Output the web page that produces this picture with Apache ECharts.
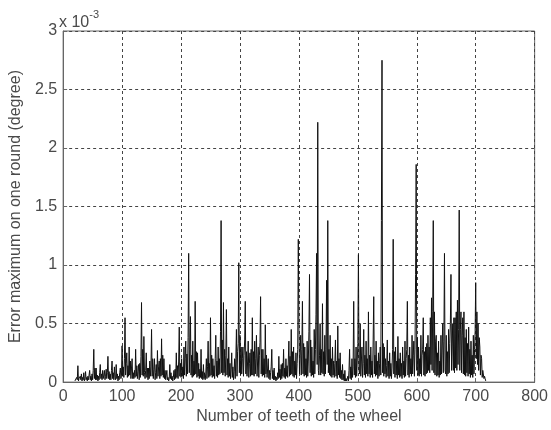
<!DOCTYPE html>
<html>
<head>
<meta charset="utf-8">
<script src="https://cdn.jsdelivr.net/npm/echarts@6/dist/echarts.min.js"></script>
<style>
html,body{margin:0;padding:0;background:#fff;}
#chart{width:551px;height:430px;}
</style>
</head>
<body>
<div id="chart"></div>
<script>
// Number of teeth of the wheel: consecutive integers starting here
var firstTooth = 20;
// Error maximum on one round (unit: 1e-3 degree), one value per tooth from firstTooth
var errors = [
0.01,0.02,0.01,0.04,0.02,0.14,0.01,0.03,0.02,0.05,0.02,0.07,0.01,0.04,0.02,0.08,0.01,0.03,0.09,0.02,
0.04,0.01,0.05,0.02,0.03,0.10,0.02,0.05,0.01,0.07,0.02,0.10,0.28,0.03,0.12,0.02,0.12,0.02,0.06,0.01,
0.05,0.02,0.08,0.15,0.03,0.07,0.02,0.10,0.03,0.06,0.10,0.02,0.05,0.11,0.03,0.08,0.22,0.03,0.09,0.02,
0.07,0.02,0.10,0.18,0.03,0.08,0.02,0.13,0.04,0.02,0.15,0.03,0.07,0.01,0.05,0.02,0.08,0.12,0.03,0.06,
0.31,0.05,0.13,0.04,0.20,0.55,0.06,0.16,0.25,0.04,0.14,0.05,0.30,0.06,0.18,0.03,0.12,0.20,0.03,0.08,
0.03,0.10,0.04,0.28,0.05,0.14,0.03,0.09,0.15,0.02,0.16,0.04,0.22,0.68,0.06,0.28,0.05,0.39,0.08,0.03,
0.10,0.25,0.04,0.12,0.02,0.12,0.03,0.18,0.05,0.13,0.45,0.05,0.20,0.03,0.11,0.20,0.02,0.08,0.15,0.03,
0.27,0.05,0.13,0.18,0.03,0.20,0.05,0.37,0.06,0.23,0.04,0.20,0.03,0.10,0.02,0.06,0.10,0.02,0.04,0.01,
0.03,0.15,0.03,0.08,0.02,0.05,0.01,0.04,0.10,0.02,0.11,0.03,0.25,0.04,0.14,0.03,0.18,0.47,0.05,0.16,
0.04,0.20,0.05,0.13,0.03,0.30,0.06,0.20,0.35,0.05,0.24,0.07,0.38,1.10,0.08,0.28,0.56,0.06,0.23,0.04,
0.35,0.05,0.18,0.06,0.69,0.07,0.26,0.04,0.25,0.05,0.16,0.03,0.11,0.04,0.28,0.03,0.09,0.02,0.15,0.03,
0.08,0.02,0.07,0.20,0.03,0.13,0.35,0.04,0.16,0.05,0.55,0.06,0.23,0.04,0.20,0.05,0.14,0.03,0.20,0.40,
0.05,0.18,0.04,0.30,0.06,0.20,0.07,0.43,1.38,0.08,0.36,0.06,0.68,0.08,0.28,0.05,0.23,0.62,0.06,0.20,
0.04,0.30,0.05,0.16,0.03,0.11,0.25,0.04,0.13,0.02,0.09,0.20,0.03,0.20,0.45,0.05,0.26,0.33,1.02,0.08,
0.40,0.06,0.30,0.07,0.20,0.30,0.05,0.23,0.36,0.69,0.07,0.26,0.05,0.18,0.35,0.04,0.16,0.25,0.05,0.28,
0.06,0.55,0.06,0.26,0.05,0.35,0.07,0.20,0.40,0.05,0.18,0.30,0.04,0.23,0.34,0.73,0.07,0.28,0.05,0.28,
0.06,0.20,0.04,0.49,0.07,0.23,0.04,0.12,0.20,0.03,0.10,0.02,0.08,0.13,0.28,0.03,0.10,0.02,0.12,0.02,
0.05,0.01,0.04,0.02,0.08,0.03,0.22,0.04,0.11,0.02,0.15,0.03,0.16,0.05,0.28,0.04,0.12,0.03,0.20,0.05,
0.14,0.04,0.18,0.35,0.05,0.22,0.06,0.45,0.07,0.26,0.05,0.30,0.04,0.18,0.06,0.25,0.03,0.16,0.28,1.22,
0.50,0.07,0.23,0.40,0.06,0.28,0.69,0.07,0.33,0.05,0.30,0.06,0.20,0.04,0.35,0.05,0.18,0.43,0.92,0.08,
0.36,0.05,0.30,0.06,0.18,0.04,0.45,0.07,0.28,0.58,1.10,0.15,2.22,0.10,0.06,0.23,0.50,0.06,0.28,0.08,
0.67,0.07,0.26,0.05,0.40,0.07,0.28,0.87,0.15,1.38,0.08,0.28,0.06,0.40,0.05,0.20,0.04,0.30,0.06,0.18,
0.04,0.16,0.36,0.05,0.18,0.03,0.48,0.06,0.20,0.04,0.25,0.03,0.10,0.02,0.15,0.02,0.07,0.01,0.10,0.01,
0.03,0.01,0.02,0.05,0.01,0.10,0.28,0.03,0.13,0.02,0.20,0.04,0.13,0.69,0.06,0.20,0.04,0.30,0.05,0.18,
0.33,1.09,0.10,0.07,0.50,0.05,0.18,0.30,0.04,0.16,0.45,0.06,0.23,0.04,0.35,0.07,0.20,0.05,0.60,0.07,
0.23,0.04,0.30,0.06,0.18,0.04,0.36,0.73,0.07,0.23,0.05,0.35,0.06,0.18,0.03,0.25,0.05,0.16,0.30,0.06,
1.38,2.75,0.08,0.33,0.05,0.30,0.07,0.20,0.04,0.14,0.36,0.05,0.18,0.03,0.25,0.05,0.16,0.03,0.12,0.28,
1.22,0.07,0.26,0.04,0.30,0.06,0.18,0.03,0.39,0.06,0.20,0.04,0.25,0.05,0.16,0.03,0.30,0.06,0.18,0.04,
0.35,0.05,0.20,0.28,0.69,0.06,0.23,0.04,0.30,0.07,0.20,0.05,0.40,0.07,0.23,0.35,0.05,0.28,0.92,1.86,
0.10,0.38,0.06,0.30,0.05,0.20,0.07,0.40,0.05,0.23,0.28,0.55,0.06,0.26,0.05,0.30,0.07,0.33,0.08,0.40,
0.10,0.30,0.08,0.55,0.15,0.72,0.10,0.60,1.38,0.08,0.60,0.06,0.35,0.40,0.05,0.25,0.06,0.35,0.04,0.18,
0.06,0.40,0.07,0.30,0.50,0.08,0.35,1.10,0.10,0.07,0.40,0.05,0.26,0.07,0.45,0.08,0.33,0.50,0.92,0.10,
0.30,0.50,0.10,0.55,0.08,0.55,0.12,0.60,0.10,0.70,0.15,0.45,1.47,0.10,0.45,0.60,0.08,0.40,0.55,0.07,
0.60,0.06,0.38,0.05,0.45,0.08,0.33,0.05,0.47,0.07,0.28,0.04,0.35,0.06,0.23,0.04,0.40,0.07,0.28,0.43,
0.85,0.20,0.60,0.15,0.50,0.10,0.38,0.30,0.06,0.23,0.20,0.04,0.10,0.10,0.03,0.05,0.03,0.01
];
var xTicks = [0, 100, 200, 300, 400, 500, 600, 700, 800];
var yTicks = [0, 0.5, 1, 1.5, 2, 2.5, 3];
var xTitle = 'Number of teeth of the wheel';
var yTitle = 'Error maximum on one round (degree)';

var points = errors.map(function (v, i) { return [firstTooth + i, v]; });

var chart = echarts.init(document.getElementById('chart'), null, {renderer: 'canvas'});
var font = "'Liberation Sans', Arial, sans-serif";
var textColor = '#4a4a4a';
var gridLine = {show: true, lineStyle: {color: '#444', width: 1, type: [3, 3]}};
chart.setOption({
  animation: false,
  backgroundColor: '#fff',
  grid: {left: 60, top: 31, right: 15, bottom: 47, show: true, borderColor: '#666', borderWidth: 1},
  xAxis: {
    type: 'value', min: xTicks[0], max: xTicks[xTicks.length - 1], interval: xTicks[1] - xTicks[0],
    axisLine: {show: true, lineStyle: {color: '#666'}},
    axisTick: {show: true, inside: true, length: 4, lineStyle: {color: '#666'}},
    axisLabel: {color: textColor, fontSize: 16, fontFamily: font, margin: 6},
    splitLine: gridLine,
    name: xTitle, nameLocation: 'middle', nameGap: 26,
    nameTextStyle: {color: textColor, fontSize: 16, fontFamily: font}
  },
  yAxis: {
    type: 'value', min: yTicks[0], max: yTicks[yTicks.length - 1], interval: yTicks[1] - yTicks[0],
    axisLine: {show: true, lineStyle: {color: '#666'}},
    axisTick: {show: true, inside: true, length: 4, lineStyle: {color: '#666'}},
    axisLabel: {color: textColor, fontSize: 16, fontFamily: font, margin: 6},
    splitLine: gridLine,
    name: yTitle, nameLocation: 'middle', nameGap: 34,
    nameTextStyle: {color: textColor, fontSize: 16, fontFamily: font}
  },
  graphic: [{
    type: 'text', left: 59, top: 9,
    style: {
      text: '{a|x 10}{b|-3}',
      rich: {
        a: {fontSize: 16, fontFamily: font, fill: textColor, padding: [6, 0, 0, 0]},
        b: {fontSize: 11, fontFamily: font, fill: textColor, verticalAlign: 'top'}
      }
    }
  }],
  series: [{
    type: 'line', data: points, showSymbol: false, symbol: 'none',
    lineStyle: {color: '#111', width: 1}, z: 3
  }]
});
</script>
</body>
</html>
